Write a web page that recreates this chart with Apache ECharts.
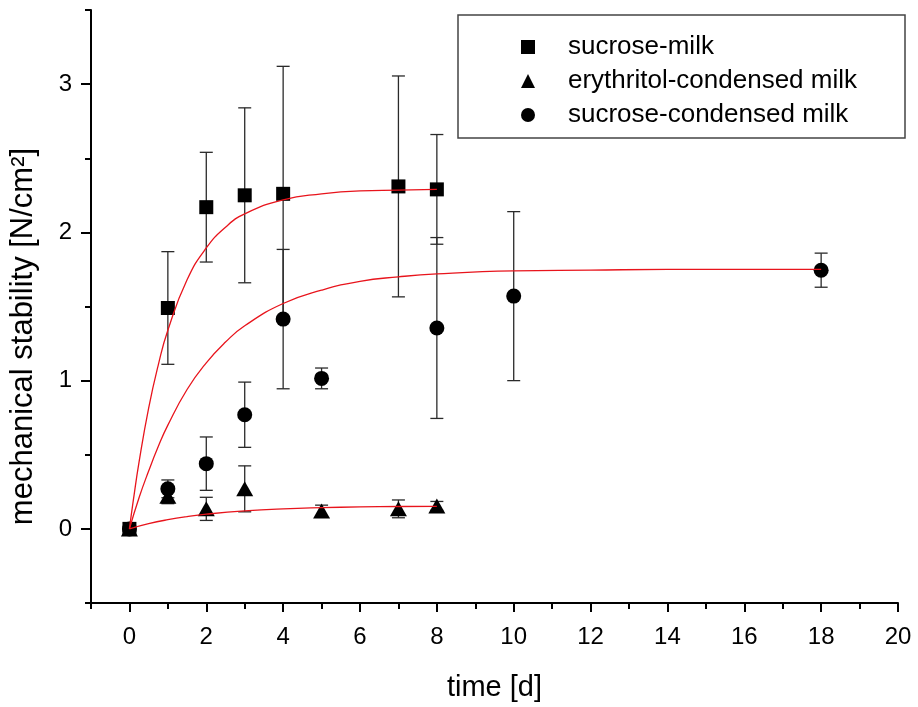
<!DOCTYPE html>
<html>
<head>
<meta charset="utf-8">
<script src="https://cdn.jsdelivr.net/npm/echarts@6/dist/echarts.min.js"></script>
<style>
  html, body { margin: 0; padding: 0; background: #fff; }
  #chart { width: 918px; height: 707px; }
</style>
</head>
<body>
<div id="chart"></div>
<script>
// Measured series: day, mean mechanical stability and standard deviation
const seriesNames = ['sucrose-milk', 'erythritol-condensed milk', 'sucrose-condensed milk'];

const smDays = [0, 1, 2, 3, 4, 7, 8];
const smMean = [0, 1.49, 2.17, 2.25, 2.26, 2.31, 2.29];
const smErr  = [0, 0.38, 0.37, 0.59, 0.86, 0.745, 0.37];

const ecDays = [0, 1, 2, 3, 5, 7, 8];
const ecMean = [0, 0.22, 0.135, 0.27, 0.12, 0.135, 0.155];
const ecErr  = [0, 0.05, 0.078, 0.155, 0.04, 0.06, 0.03];

const scDays = [0, 1, 2, 3, 4, 5, 8, 10, 18];
const scMean = [0, 0.27, 0.44, 0.77, 1.415, 1.015, 1.355, 1.57, 1.745];
const scErr  = [0, 0.06, 0.18, 0.22, 0.47, 0.07, 0.61, 0.57, 0.115];

// Fitted saturation curves, sampled along time
const smFitX = [0, 0.1, 0.25, 0.5, 0.75, 1, 1.5, 2, 2.5, 3, 4, 5, 6, 7, 8];
const smFitY = [0, 0.19, 0.45, 0.815, 1.105, 1.34, 1.68, 1.895, 2.035, 2.125, 2.22, 2.26, 2.28, 2.285, 2.29];

const ecFitX = [0, 0.5, 1, 1.5, 2, 3, 4, 5, 6, 7, 8];
const ecFitY = [0, 0.035, 0.062, 0.083, 0.099, 0.121, 0.135, 0.143, 0.148, 0.151, 0.152];

const scFitX = [0, 0.25, 0.5, 0.75, 1, 1.5, 2, 2.5, 3, 4, 5, 6, 7, 8, 10, 12, 14, 16, 18];
const scFitY = [0, 0.21, 0.39, 0.555, 0.70, 0.94, 1.12, 1.26, 1.37, 1.52, 1.61, 1.67, 1.70, 1.72, 1.74, 1.745, 1.75, 1.75, 1.75];

// Axis ticks
const xMajorTicks = [0, 2, 4, 6, 8, 10, 12, 14, 16, 18, 20];
const xMinorTicks = [-1, 1, 3, 5, 7, 9, 11, 13, 15, 17, 19];
const yMajorTicks = [0, 1, 2, 3];
const yMinorTicks = [-0.5, 0.5, 1.5, 2.5, 3.5];

const FONT = "'Liberation Sans', Arial, sans-serif";
const AXIS_COLOR = '#000';

function zip(xs, ys) { return xs.map((x, i) => [x, ys[i]]); }
function errRows(xs, ys, es) { return xs.map((x, i) => [x, ys[i] - es[i], ys[i] + es[i]]); }

function renderErrorBar(params, api) {
  const x = api.value(0), lo = api.value(1), hi = api.value(2);
  if (hi - lo <= 0) return null;
  const top = api.coord([x, hi]);
  const bot = api.coord([x, lo]);
  const half = 6.5;
  const style = { stroke: '#2a2a2a', lineWidth: 1.3, fill: null };
  return {
    type: 'group',
    children: [
      { type: 'line', shape: { x1: top[0], y1: top[1], x2: bot[0], y2: bot[1] }, style },
      { type: 'line', shape: { x1: top[0] - half, y1: top[1], x2: top[0] + half, y2: top[1] }, style },
      { type: 'line', shape: { x1: bot[0] - half, y1: bot[1], x2: bot[0] + half, y2: bot[1] }, style }
    ]
  };
}

function errorSeries(name, xs, ys, es) {
  return {
    name: name + ' SD',
    type: 'custom',
    xAxisIndex: 0, yAxisIndex: 0,
    renderItem: renderErrorBar,
    encode: { x: 0, y: [1, 2] },
    data: errRows(xs, ys, es),
    z: 2,
    silent: true
  };
}

function pointSeries(name, xs, ys, symbol, size) {
  return {
    name: name,
    type: 'scatter',
    xAxisIndex: 0, yAxisIndex: 0,
    symbol: symbol,
    symbolSize: size,
    itemStyle: { color: '#000', opacity: 1 },
    data: zip(xs, ys),
    z: 3
  };
}

function fitSeries(name, xs, ys) {
  return {
    name: name,
    type: 'line',
    xAxisIndex: 0, yAxisIndex: 0,
    smooth: 0.5,
    showSymbol: false,
    lineStyle: { color: '#e8141c', width: 1.3 },
    data: zip(xs, ys),
    z: 4,
    silent: true
  };
}

const chart = echarts.init(document.getElementById('chart'), null, { renderer: 'canvas' });

const option = {
  backgroundColor: '#fff',
  animation: false,
  grid: { left: 91, right: 20, top: 10, bottom: 102, containLabel: false },
  legend: {
    orient: 'vertical',
    left: 521,
    top: 34,
    padding: 0,
    itemWidth: 14,
    itemHeight: 14,
    itemGap: 8,
    selectedMode: false,
    textStyle: { fontFamily: FONT, fontSize: 26, color: '#000', padding: [0, 0, 0, 28] },
    data: [
      { name: seriesNames[0], icon: 'rect', itemStyle: { color: '#000', opacity: 1 } },
      { name: seriesNames[1], icon: 'triangle', itemStyle: { color: '#000', opacity: 1 } },
      { name: seriesNames[2], icon: 'circle', itemStyle: { color: '#000', opacity: 1 } }
    ]
  },
  graphic: [{
    type: 'rect',
    shape: { x: 458, y: 15, width: 447, height: 123 },
    style: { fill: null, stroke: '#444', lineWidth: 1.5 },
    z: 10
  }],
  xAxis: [{
    type: 'value',
    position: 'bottom',
    min: -1, max: 20,
    name: 'time [d]',
    nameLocation: 'middle',
    nameGap: 70,
    nameTextStyle: { fontFamily: FONT, fontSize: 29, color: '#000' },
    axisLine: { onZero: false, lineStyle: { color: AXIS_COLOR, width: 2 } },
    axisTick: { show: true, inside: false, length: 9, lineStyle: { color: AXIS_COLOR, width: 2 }, customValues: xMajorTicks },
    axisLabel: { fontFamily: FONT, fontSize: 24, color: '#000', margin: 22, customValues: xMajorTicks },
    splitLine: { show: false }
  }, {
    type: 'value',
    position: 'bottom',
    min: -1, max: 20,
    axisLine: { show: false, onZero: false },
    axisTick: { show: true, inside: false, length: 6, lineStyle: { color: AXIS_COLOR, width: 2 }, customValues: xMinorTicks },
    axisLabel: { show: false },
    splitLine: { show: false }
  }],
  yAxis: [{
    type: 'value',
    position: 'left',
    min: -0.5, max: 3.5,
    name: 'mechanical stability [N/cm²]',
    nameLocation: 'middle',
    nameRotate: 90,
    nameGap: 52,
    nameTextStyle: { fontFamily: FONT, fontSize: 31, color: '#000', padding: [0, 60, 0, 0] },
    axisLine: { onZero: false, lineStyle: { color: AXIS_COLOR, width: 2 } },
    axisTick: { show: true, inside: false, length: 10, lineStyle: { color: AXIS_COLOR, width: 2 }, customValues: yMajorTicks },
    axisLabel: { fontFamily: FONT, fontSize: 24, color: '#000', margin: 19, customValues: yMajorTicks },
    splitLine: { show: false }
  }, {
    type: 'value',
    position: 'left',
    min: -0.5, max: 3.5,
    axisLine: { show: false, onZero: false },
    axisTick: { show: true, inside: false, length: 6, lineStyle: { color: AXIS_COLOR, width: 2 }, customValues: yMinorTicks },
    axisLabel: { show: false },
    splitLine: { show: false }
  }],
  series: [
    errorSeries(seriesNames[0], smDays, smMean, smErr),
    errorSeries(seriesNames[1], ecDays, ecMean, ecErr),
    errorSeries(seriesNames[2], scDays, scMean, scErr),
    pointSeries(seriesNames[0], smDays, smMean, 'rect', 14),
    pointSeries(seriesNames[1], ecDays, ecMean, 'triangle', [17, 15]),
    pointSeries(seriesNames[2], scDays, scMean, 'circle', 15),
    fitSeries('sucrose-milk fit', smFitX, smFitY),
    fitSeries('erythritol-condensed milk fit', ecFitX, ecFitY),
    fitSeries('sucrose-condensed milk fit', scFitX, scFitY)
  ]
};

chart.setOption(option);
</script>
</body>
</html>
